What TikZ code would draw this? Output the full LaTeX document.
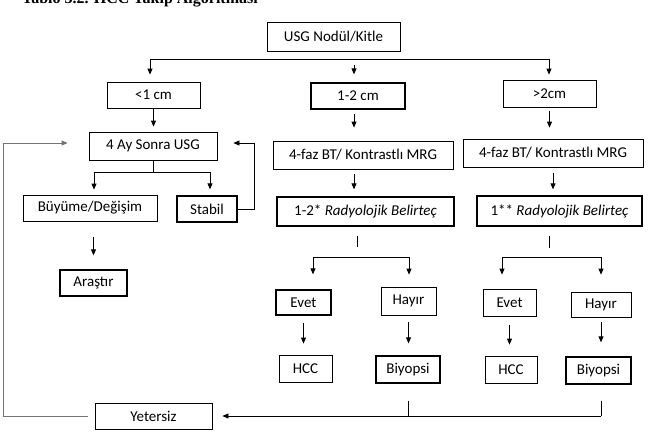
\documentclass[tikz,border=0pt]{standalone}
\usepackage{fontspec}
\setmainfont{Carlito}
\newfontfamily\titlefont{Liberation Serif}
\usetikzlibrary{arrows.meta}

\tikzset{
  box/.style={draw, line width=0.8pt, inner sep=0pt, font=\fontsize{15}{18}\selectfont},
  boxb/.style={box, line width=1.3pt},
  arr/.style={line width=0.8pt, -{Triangle[length=6pt,width=5pt]}},
  ln/.style={line width=0.8pt}
}

\begin{document}
\begin{tikzpicture}[x=1pt,y=-1pt]
\useasboundingbox (0,0) rectangle (648,432);

% title, cut off at the top
\begin{scope}
\clip (0,0) rectangle (648,432);
\node [anchor=base east, font=\titlefont\bfseries\fontsize{16}{19}\selectfont, inner sep=0pt] (title) at (258,3) {Tablo 3.2. HCC Takip Algoritması};
\end{scope}

% boxes
\node [box, minimum width=133pt, minimum height=29pt] (usg) at (333.5,36.5) {USG Nodül/Kitle};

\node [box, minimum width=93pt, minimum height=26pt] (lt) at (153.5,95) {<1 cm};
\node [boxb, minimum width=94pt, minimum height=26pt] (mid) at (358,96) {1-2 cm};
\node [box, minimum width=93pt, minimum height=27pt] (gt) at (549.5,93.5) {>2cm};

\node [box, minimum width=128pt, minimum height=28pt] (ay) at (153,146) {4 Ay Sonra USG};
\node [box, minimum width=180pt, minimum height=28pt] (btA) at (363,155) {4-faz BT/ Kontrastlı MRG};
\node [box, minimum width=180pt, minimum height=28pt] (btB) at (553,153) {4-faz BT/ Kontrastlı MRG};

\node [box, minimum width=134pt, minimum height=26pt] (buy) at (90,208) {Büyüme/Değişim};
\node [boxb, minimum width=60pt, minimum height=26pt] (stb) at (207,209) {Stabil};
\node [boxb, minimum width=67pt, minimum height=26pt] (ara) at (93.5,283) {Araştır};

\node [boxb, minimum width=177pt, minimum height=29pt] (radA) at (365.5,211.5) {1-2* \textit{Radyolojik Belirteç}};
\node [boxb, minimum width=165pt, minimum height=30pt] (radB) at (559.5,211) {1** \textit{Radyolojik Belirteç}};

\node [boxb, minimum width=55pt, minimum height=25pt] (evA) at (303.5,302.5) {Evet};
\node [box, minimum width=55pt, minimum height=28pt] (hyA) at (408.5,301) {Hayır};
\node [box, minimum width=53pt, minimum height=27pt] (evB) at (509.5,302.5) {Evet};
\node [box, minimum width=60pt, minimum height=25pt] (hyB) at (601,304.5) {Hayır};

\node [box, minimum width=53pt, minimum height=27pt] (hccA) at (305.5,368.5) {HCC};
\node [boxb, minimum width=64pt, minimum height=27pt] (biyA) at (408,369.5) {Biyopsi};
\node [box, minimum width=52pt, minimum height=27pt] (hccB) at (511,369.5) {HCC};
\node [boxb, minimum width=65pt, minimum height=27pt] (biyB) at (598.5,370.5) {Biyopsi};

\node [box, minimum width=117pt, minimum height=26pt] (yet) at (153.5,416) {Yetersiz};

% junction points
\coordinate (tL) at (150,59);
\coordinate (tM) at (354,59);
\coordinate (tR) at (549,59);
\coordinate (ayL) at (94,172);
\coordinate (ayR) at (210,172);
\coordinate (jA) at (357,257);
\coordinate (aL) at (313,257);
\coordinate (aR) at (409,257);
\coordinate (jB) at (549,257);
\coordinate (bL) at (502,257);
\coordinate (bR) at (601,257);
\coordinate (cM) at (409,416);
\coordinate (cR) at (601,416);
\coordinate (lp) at (3,143);
\coordinate (rp) at (254,143);

% first split
\draw [ln] (tL) -- (tR);
\draw [arr, shorten >=7pt] (tL) -- (tL |- lt.north);
\draw [arr, shorten <=6pt, shorten >=8pt] (tM) -- (tM |- mid.north);
\draw [arr, shorten >=5pt] (tR) -- (tR |- gt.north);

% down the columns
\draw [arr, shorten >=5pt] (lt.south) -- (lt.south |- ay.north);
\draw [arr, shorten <=4pt, shorten >=13pt] (mid.south -| tM) -- (tM |- btA.north);
\draw [arr, shorten <=4pt, shorten >=11pt] (gt.south) -- (gt.south |- btB.north);
\draw [arr, shorten <=5pt, shorten >=7pt] (btA.south -| tM) -- (tM |- radA.north);
\draw [arr, shorten <=6pt, shorten >=6pt] (btB.south) -- (btB.south |- radB.north);

% 4 Ay Sonra USG
\draw [ln] (ay.south) -- (ay.south |- ayL);
\draw [ln] (ayL) -- (ayR);
\draw [arr, shorten >=5pt] (ayL) -- (ayL |- buy.north);
\draw [arr, shorten >=6pt] (ayR) -- (ayR |- stb.north);
\draw [arr, shorten <=16pt, shorten >=14pt] (buy.south -| ara.north) -- (ara.north);
\draw [arr, shorten >=16pt] (stb.east) -| (rp) -- (rp -| ay.east);

% radyolojik belirtec
\draw [ln, shorten <=9pt, shorten >=10pt] (radA.south -| jA) -- (jA);
\draw [ln] (aL) -- (aR);
\draw [arr, shorten >=15pt] (aL) -- (aL |- evA.north);
\draw [arr, shorten >=12pt] (aR) -- (aR |- hyA.north);
\draw [ln, shorten <=9pt, shorten >=9pt] (radB.south -| jB) -- (jB);
\draw [ln] (bL) -- (bR);
\draw [arr, shorten >=14pt] (bL) -- (bL |- evB.north);
\draw [arr, shorten >=17pt] (bR) -- (bR |- hyB.north);

% evet / hayir
\draw [arr, shorten <=7pt, shorten >=11pt] (evA.south) -- (evA.south |- hccA.north);
\draw [arr, shorten <=7pt, shorten >=12pt] (hyA.south) -- (hyA.south |- biyA.north);
\draw [arr, shorten <=9pt, shorten >=11pt] (evB.south) -- (evB.south |- hccB.north);
\draw [arr, shorten <=5pt, shorten >=14pt] (hyB.south) -- (hyB.south |- biyB.north);

% yetersiz
\draw [ln, shorten <=17pt] (biyA.south) -- (biyA.south |- cM);
\draw [ln, shorten <=16pt] (biyB.south -| cR) -- (cR);
\draw [arr, shorten >=10pt] (cR) -- (cR -| yet.east);
\draw [arr, black!55, shorten <=7pt, shorten >=21pt] (yet.west) -| (lp) -- (lp -| ay.west);
\end{tikzpicture}
\end{document}
